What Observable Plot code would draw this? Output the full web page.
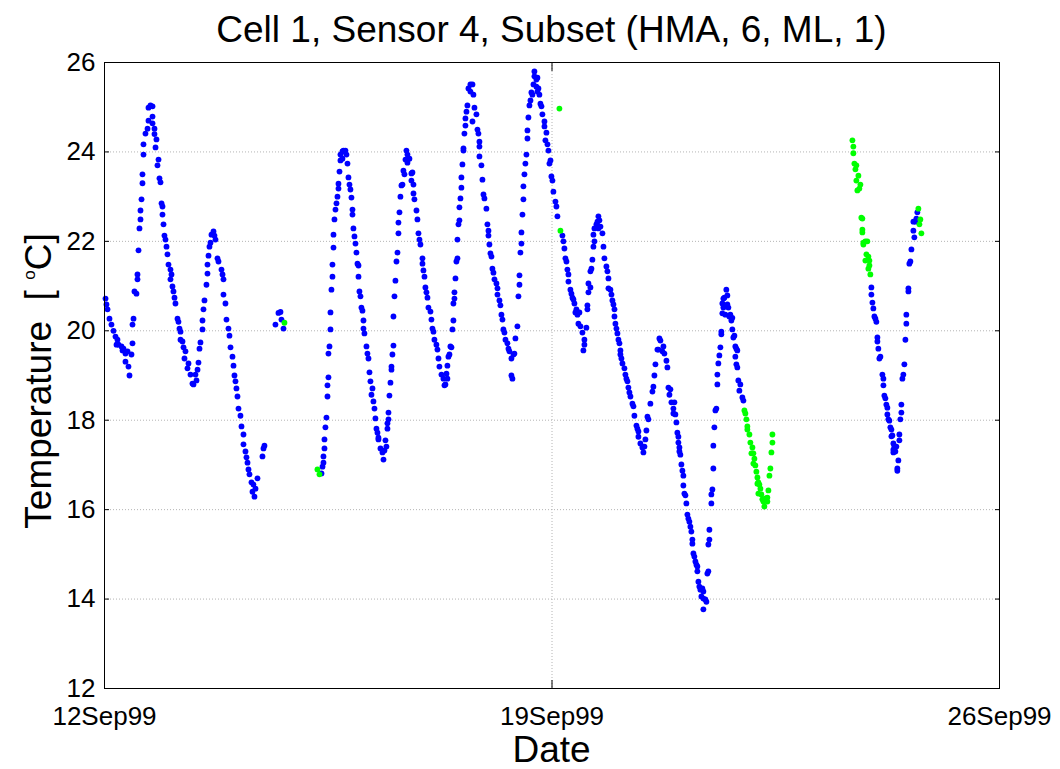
<!DOCTYPE html>
<html><head><meta charset="utf-8">
<script src="https://cdn.jsdelivr.net/npm/d3@7"></script>
<script src="https://cdn.jsdelivr.net/npm/@observablehq/plot@0.6"></script>
<style>
body{margin:0;background:#fff}
#chart svg{font-family:"Liberation Sans",Arial,sans-serif}
</style>
</head><body><div id="chart"></div>
<script>
// [day offset from 12Sep99 00:00, temperature °C]
const blueA = [[.016,20.72],[.031,20.59],[.047,20.48],[.078,20.27],[.109,20.14],[.141,20.0],[.172,19.87],[.188,19.69],[.203,19.8],[.219,19.69],[.266,19.65],[.282,19.56],[.297,19.6],[.328,19.31],[.328,19.49],[.36,19.54],[.375,19.2],[.391,19.0],[.422,19.47],[.438,19.72],[.438,20.14],[.454,20.27],[.469,20.88],[.5,20.83],[.516,21.15],[.516,21.26],[.532,21.8],[.547,22.29],[.563,22.49],[.563,22.69],[.579,22.94],[.594,23.3],[.594,23.5],[.61,23.94],[.61,24.17],[.641,24.41],[.673,24.52],[.688,24.7],[.688,24.99],[.719,25.04],[.751,25.02],[.751,24.79],[.751,24.64],[.782,24.52],[.782,24.4],[.813,24.28],[.798,24.1],[.845,23.83],[.829,23.7],[.86,23.41],[.876,23.32],[.892,22.85],[.907,22.78],[.907,22.6],[.923,22.38],[.938,22.13],[.954,22.04],[.97,21.88],[.985,21.71],[1.001,21.48],[1.032,21.37],[1.048,21.26],[1.032,21.15],[1.063,20.99],[1.079,20.88],[1.095,20.74],[1.11,20.61],[1.142,20.27],[1.157,20.2],[1.173,20.05],[1.189,19.98],[1.189,19.8],[1.22,19.76],[1.236,19.63],[1.267,19.54],[1.251,19.38],[1.298,19.16],[1.314,19.27],[1.345,19.02],[1.376,18.82],[1.392,18.8],[1.439,18.89],[1.423,19.02],[1.455,19.13],[1.47,19.29],[1.486,19.6],[1.501,19.74],[1.533,20.03],[1.533,20.23],[1.548,20.48],[1.564,20.68],[1.595,21.03],[1.611,21.28],[1.611,21.48],[1.627,21.68],[1.642,21.88],[1.658,21.97],[1.673,22.15],[1.705,22.22],[1.72,22.13],[1.736,22.04],[1.767,21.62],[1.783,21.55],[1.83,21.37],[1.846,21.26],[1.861,21.15],[1.861,20.81],[1.892,20.61],[1.908,20.25],[1.939,20.05],[1.955,19.89],[1.971,19.63],[2.002,19.42],[2.018,19.22],[2.033,19.0],[2.049,18.87],[2.064,18.71],[2.08,18.53],[2.096,18.26],[2.127,18.1],[2.143,17.86],[2.174,17.68],[2.174,17.46],[2.205,17.3],[2.221,17.17],[2.237,17.05],[2.252,16.9],[2.268,16.79],[2.299,16.61],[2.33,16.56],[2.315,16.4],[2.346,16.29],[2.362,16.47],[2.393,16.7],[2.471,17.19],[2.487,17.37],[2.502,17.43],[2.674,20.14],[2.721,20.4],[2.753,20.42],[2.768,20.25],[2.8,20.05]];

const blueB = [[3.394,16.81],[3.41,16.96],[3.425,17.05],[3.425,17.19],[3.441,17.37],[3.441,17.57],[3.456,17.84],[3.472,18.06],[3.488,18.53],[3.488,18.78],[3.503,18.96],[3.503,19.49],[3.519,19.65],[3.535,20.03],[3.535,20.41],[3.55,20.92],[3.566,21.21],[3.566,21.48],[3.582,21.86],[3.582,22.15],[3.597,22.49],[3.613,22.71],[3.629,22.85],[3.644,23.0],[3.66,23.18],[3.66,23.29],[3.676,23.56],[3.691,23.81],[3.691,23.94],[3.722,24.01],[3.738,24.03],[3.769,24.03],[3.722,23.85],[3.785,23.94],[3.801,23.74],[3.816,23.43],[3.832,23.27],[3.847,23.16],[3.863,22.98],[3.879,22.71],[3.879,22.6],[3.894,22.29],[3.91,22.11],[3.926,21.95],[3.941,21.75],[3.957,21.5],[3.973,21.46],[3.973,21.21],[3.988,20.88],[4.004,20.77],[4.019,20.52],[4.035,20.45],[4.051,20.23],[4.051,20.05],[4.066,19.94],[4.098,19.65],[4.113,19.49],[4.129,19.38],[4.145,19.07],[4.16,18.87],[4.192,18.71],[4.176,18.57],[4.207,18.42],[4.223,18.26],[4.238,18.04],[4.254,17.81],[4.27,17.72],[4.285,17.61],[4.285,17.57],[4.317,17.37],[4.348,17.28],[4.364,17.12],[4.379,17.32],[4.41,17.41],[4.395,17.55],[4.426,17.81],[4.426,17.93],[4.442,18.02],[4.442,18.17],[4.457,18.55],[4.473,18.84],[4.489,19.13],[4.489,19.2],[4.504,19.47],[4.52,19.67],[4.52,20.32],[4.536,20.77],[4.551,21.12],[4.567,21.55],[4.583,21.75],[4.598,22.18],[4.598,22.42],[4.614,22.65],[4.629,23.0],[4.645,23.25],[4.661,23.27],[4.676,23.58],[4.692,23.5],[4.708,23.83],[4.723,24.03],[4.739,23.94],[4.77,23.85],[4.739,23.76],[4.801,23.52],[4.817,23.54],[4.801,23.36],[4.833,23.27],[4.833,23.07],[4.848,22.94],[4.88,22.69],[4.895,22.49],[4.911,22.18],[4.927,22.04],[4.942,21.93],[4.974,21.62],[4.974,21.5],[4.989,21.35],[5.005,21.21],[5.02,20.97],[5.036,20.86],[5.052,20.74],[5.067,20.52],[5.099,20.43],[5.114,20.25],[5.13,20.05],[5.146,19.98],[5.161,19.8],[5.192,19.69],[5.208,19.58],[5.224,19.38],[5.239,19.2],[5.271,19.02],[5.302,18.93],[5.318,18.78],[5.333,18.8],[5.349,19.04],[5.364,18.93],[5.364,19.22],[5.38,19.42],[5.396,19.47],[5.411,19.65],[5.427,19.63],[5.443,20.03],[5.458,20.23],[5.458,20.61],[5.474,20.72],[5.474,20.86],[5.49,21.17],[5.505,21.55],[5.521,21.62],[5.521,22.04],[5.537,22.38],[5.552,22.47],[5.552,22.76],[5.568,22.96],[5.583,23.2],[5.583,23.43],[5.599,23.72],[5.615,24.03],[5.615,24.08],[5.63,24.41],[5.646,24.59],[5.646,24.75],[5.662,24.9],[5.677,25.04],[5.693,25.42],[5.724,25.51],[5.756,25.51],[5.724,25.35],[5.771,25.28],[5.756,24.68],[5.787,24.99],[5.818,24.84],[5.834,24.5],[5.849,24.41],[5.865,24.23],[5.865,24.12],[5.865,23.9],[5.896,23.7],[5.912,23.38],[5.928,23.05],[5.943,22.96],[5.974,22.73],[5.99,22.38],[6.006,22.24],[6.006,22.13],[6.021,21.93],[6.037,21.73],[6.053,21.66],[6.068,21.39],[6.084,21.3],[6.1,21.15],[6.131,21.06],[6.147,20.95],[6.147,20.81],[6.178,20.68],[6.193,20.57],[6.209,20.36],[6.225,20.25],[6.24,20.03],[6.256,19.96],[6.272,19.8],[6.303,19.72],[6.319,19.6],[6.334,19.54],[6.365,19.38],[6.365,19.0],[6.381,18.93],[6.397,19.47],[6.412,19.49],[6.428,19.83],[6.459,20.1],[6.475,20.77],[6.491,21.03],[6.491,21.24],[6.506,21.75],[6.522,21.95],[6.522,22.2],[6.538,22.6],[6.553,22.94],[6.553,23.23],[6.569,23.5],[6.584,23.74],[6.6,23.94],[6.616,24.3],[6.616,24.48],[6.631,24.77],[6.647,25.04],[6.663,25.15],[6.678,25.33],[6.694,25.28],[6.71,25.51],[6.725,25.69],[6.725,25.8],[6.756,25.62],[6.772,25.66],[6.756,25.46],[6.772,25.35],[6.788,25.42],[6.803,25.28],[6.819,25.08],[6.835,25.02],[6.85,24.84],[6.882,24.68],[6.882,24.57],[6.913,24.43],[6.897,24.26],[6.929,24.17],[6.944,24.03],[6.96,23.74],[6.976,23.81],[6.991,23.45],[7.007,23.36],[7.022,23.11],[7.054,22.89],[7.069,22.78],[7.085,22.56]];

const blueC = [[7.163,22.13],[7.179,22.0],[7.194,21.84],[7.21,21.62],[7.226,21.55],[7.241,21.37],[7.257,21.26],[7.257,21.1],[7.288,20.92],[7.304,20.83],[7.32,20.74],[7.335,20.7],[7.351,20.61],[7.366,20.41],[7.382,20.48],[7.398,20.36],[7.413,20.16],[7.429,20.41],[7.445,20.1],[7.476,19.96],[7.507,19.8],[7.507,19.69],[7.491,19.56],[7.538,20.07],[7.554,20.48],[7.554,20.57],[7.57,20.86],[7.57,21.06],[7.601,20.97],[7.601,21.33],[7.617,21.39],[7.632,21.59],[7.648,21.88],[7.664,22.0],[7.648,22.15],[7.664,22.29],[7.695,22.38],[7.711,22.44],[7.726,22.56],[7.742,22.47],[7.726,22.29],[7.758,22.33],[7.789,22.18],[7.805,21.88],[7.82,21.62],[7.851,21.44],[7.867,21.33],[7.883,21.17],[7.883,20.95],[7.914,20.92],[7.93,20.81],[7.945,20.68],[7.961,20.59],[7.977,20.48],[7.977,20.32],[7.992,20.16],[8.008,20.05],[8.023,19.94],[8.039,19.8],[8.055,19.72],[8.07,19.56],[8.07,19.47],[8.086,19.38],[8.102,19.27],[8.133,19.16],[8.148,19.02],[8.164,18.93],[8.18,18.87],[8.195,18.73],[8.211,18.62],[8.227,18.53],[8.258,18.37],[8.274,18.31],[8.289,18.1],[8.321,17.88],[8.336,17.81],[8.352,17.75],[8.352,17.63],[8.383,17.48],[8.414,17.39],[8.43,17.28],[8.446,17.41],[8.461,17.57],[8.477,17.77],[8.493,18.08],[8.508,18.02],[8.539,18.37],[8.571,18.64],[8.586,18.75],[8.602,19.0],[8.618,19.25],[8.649,19.58],[8.665,19.58],[8.68,19.83],[8.696,19.78],[8.727,19.54],[8.743,19.65],[8.758,19.49],[8.79,19.33],[8.805,19.18],[8.821,18.73],[8.852,18.69],[8.837,18.57],[8.868,18.4],[8.899,18.26],[8.915,18.4],[8.899,18.15],[8.93,18.13],[8.946,17.95],[8.961,17.72],[8.977,17.63],[8.977,17.5],[8.993,17.39],[8.993,17.3],[9.008,17.23],[9.024,17.01],[9.04,16.87],[9.055,16.76],[9.055,16.54],[9.071,16.36],[9.087,16.32],[9.102,16.14],[9.118,15.89],[9.133,15.8],[9.149,15.73],[9.165,15.62],[9.18,15.51],[9.196,15.33],[9.196,15.24],[9.212,15.02],[9.227,14.95],[9.243,14.84],[9.259,14.77],[9.274,14.73],[9.274,14.62],[9.29,14.39],[9.305,14.28],[9.321,14.21],[9.352,14.24],[9.368,14.17],[9.337,14.06],[9.368,14.01],[9.399,13.99],[9.415,13.94],[9.368,13.77],[9.43,14.57],[9.446,14.62],[9.446,15.22],[9.462,15.33],[9.462,15.55],[9.493,16.14],[9.493,16.34],[9.509,16.45],[9.524,16.92],[9.524,17.43],[9.54,17.84],[9.556,18.22],[9.571,18.26],[9.587,18.8],[9.587,19.02],[9.602,19.27],[9.618,19.45],[9.634,19.63],[9.649,19.92],[9.649,19.98],[9.665,20.39],[9.681,20.52],[9.665,20.61],[9.681,20.72],[9.696,20.74],[9.712,20.36],[9.727,20.92],[9.743,20.79],[9.743,20.59],[9.759,20.52],[9.774,20.32],[9.79,20.36],[9.806,20.23],[9.821,20.29],[9.821,20.03],[9.837,19.85],[9.853,19.89],[9.868,19.65],[9.884,19.6],[9.899,19.56],[9.868,19.42],[9.884,19.25],[9.899,19.18],[9.915,18.89],[9.946,18.8],[9.931,18.66],[9.978,18.51],[9.994,18.44]];

const blueD = [[11.996,20.97],[11.996,20.81],[12.012,20.63],[12.027,20.5],[12.043,20.32],[12.059,20.27],[12.074,20.2],[12.09,19.85],[12.09,19.76],[12.105,19.6],[12.137,19.42],[12.121,19.38],[12.168,19.02],[12.184,18.93],[12.184,18.78],[12.199,18.55],[12.215,18.49],[12.23,18.35],[12.246,18.28],[12.246,18.13],[12.262,18.02],[12.277,17.99],[12.293,17.84],[12.309,17.79],[12.324,17.66],[12.309,17.64],[12.34,17.48],[12.356,17.41],[12.34,17.34],[12.34,17.28],[12.371,17.3],[12.387,17.41],[12.418,17.1],[12.402,16.92],[12.402,16.87],[12.434,17.55],[12.434,17.68],[12.449,18.02],[12.465,18.17],[12.465,18.35],[12.481,18.93],[12.496,19.02],[12.512,19.25],[12.528,19.8],[12.543,20.16],[12.543,20.36],[12.575,20.88],[12.575,20.95],[12.59,21.5],[12.606,21.55],[12.622,21.82],[12.653,22.24],[12.668,22.09],[12.653,22.44],[12.684,22.44],[12.7,22.51],[12.715,22.65]];

const greenA = [[2.815,20.18],[3.331,16.9],[3.363,16.79],[7.116,24.97],[7.132,22.24]];

const greenB = [[10.01,18.22],[10.025,18.15],[10.041,18.02],[10.056,17.86],[10.056,17.79],[10.088,17.68],[10.103,17.5],[10.135,17.39],[10.119,17.26],[10.15,17.26],[10.166,17.14],[10.15,17.03],[10.181,16.99],[10.197,16.85],[10.213,16.72],[10.228,16.61],[10.213,16.58],[10.244,16.56],[10.26,16.47],[10.228,16.36],[10.275,16.34],[10.291,16.23],[10.307,16.18],[10.338,16.25],[10.369,16.18],[10.322,16.07],[10.369,16.27],[10.385,16.43],[10.401,16.76],[10.416,16.92],[10.432,17.28],[10.448,17.5],[10.448,17.68]];

const greenC = [[11.699,24.26],[11.714,24.12],[11.714,23.97],[11.73,23.74],[11.761,23.7],[11.746,23.61],[11.793,23.47],[11.761,23.36],[11.824,23.27],[11.808,23.18],[11.777,23.14],[11.839,22.53],[11.855,22.51],[11.855,22.26],[11.855,22.2],[11.871,21.97],[11.902,22.0],[11.933,22.0],[11.871,21.93],[11.918,21.71],[11.949,21.66],[11.902,21.57],[11.965,21.57],[11.965,21.46],[11.949,21.39],[11.98,21.26],[12.731,22.73],[12.762,22.49],[12.747,22.38],[12.778,22.18]];

const yTicks = [12, 14, 16, 18, 20, 22, 24, 26];
const xTickDays = [0, 7, 14];
const xTickLabels = ["12Sep99", "19Sep99", "26Sep99"];
const titleText = "Cell 1, Sensor 4, Subset (HMA, 6, ML, 1)";
const xLabel = "Date";

const start = Date.UTC(1999, 8, 12);
const toDate = d => new Date(start + d * 864e5);
const rows = (arr) => arr.map(([d, v]) => ({t: toDate(d), v}));
const blue = rows([...blueA, ...blueB, ...blueC, ...blueD]);
const green = rows([...greenA, ...greenB, ...greenC]);
const xTicks = xTickDays.map(toDate);
const labelOf = new Map(xTicks.map((d, i) => [+d, xTickLabels[i]]));

const gridStyle = {stroke: "#b4b4b4", strokeOpacity: 1, strokeWidth: 1, strokeDasharray: "1,2"};

const chart = Plot.plot({
  width: 1060, height: 769,
  marginLeft: 104, marginRight: 61, marginTop: 62, marginBottom: 81,
  style: {fontFamily: "'Liberation Sans', Arial, sans-serif", fontSize: "26px", color: "black", background: "white"},
  x: {type: "utc", domain: [toDate(0), toDate(14)]},
  y: {domain: [12, 26]},
  marks: [
    Plot.gridY(yTicks.slice(1, -1), gridStyle),
    Plot.gridX([xTicks[1]], gridStyle),
    Plot.dot(blue, {x: "t", y: "v", r: 2.9, fill: "#0000ff", stroke: null}),
    Plot.dot(green, {x: "t", y: "v", r: 2.9, fill: "#00ff00", stroke: null}),
    Plot.axisY(yTicks, {anchor: "left", tickSize: -5, tickPadding: 14, label: null, fontSize: 26, stroke: "black"}),
    Plot.axisY(yTicks, {anchor: "right", tickSize: -5, tickFormat: () => "", label: null, stroke: "black"}),
    Plot.axisX(xTicks, {anchor: "bottom", tickSize: -8, tickPadding: 26, tickFormat: d => labelOf.get(+d), label: null, fontSize: 26, stroke: "black"}),
    Plot.axisX(xTicks, {anchor: "top", tickSize: -8, tickFormat: () => "", label: null, stroke: "black"}),
    Plot.frame({stroke: "black", strokeWidth: 1})
  ]
});
document.getElementById("chart").append(chart);

const svg = d3.select(chart);
const font = "'Liberation Sans', Arial, sans-serif";
svg.append("text").attr("x", 551.5).attr("y", 42).attr("text-anchor", "middle")
  .attr("font-family", font).attr("font-size", 37).attr("fill", "black").text(titleText);
svg.append("text").attr("x", 551.5).attr("y", 762).attr("text-anchor", "middle")
  .attr("font-family", font).attr("font-size", 37).attr("fill", "black").text(xLabel);
const yl = svg.append("text").attr("transform", "translate(51,381) rotate(-90)").attr("text-anchor", "middle")
  .attr("font-family", font).attr("font-size", 37).attr("fill", "black");
yl.append("tspan").attr("xml:space", "preserve").style("white-space", "pre").text("Temperature  [ ");
yl.append("tspan").attr("font-size", 17).attr("dy", -16).text("o");
yl.append("tspan").attr("dy", 16).text("C]");
</script>
</body></html>
